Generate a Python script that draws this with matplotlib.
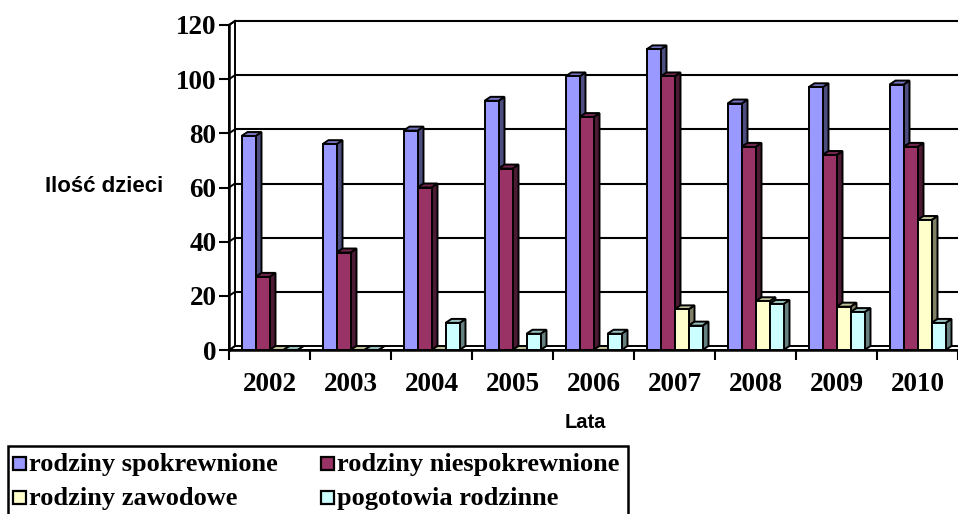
import numpy as np
import matplotlib.pyplot as plt
from matplotlib.patches import Polygon, Rectangle

years = ["2002", "2003", "2004", "2005", "2006", "2007", "2008", "2009", "2010"]
series_names = ["rodziny spokrewnione", "rodziny niespokrewnione",
                "rodziny zawodowe", "pogotowia rodzinne"]
spokrewnione = [79, 76, 81, 92, 101, 111, 91, 97, 98]
niespokrewnione = [27, 36, 60, 67, 86, 101, 75, 72, 75]
zawodowe = [0, 0, 0, 0, 0, 15, 18, 16, 48]
pogotowia = [0, 0, 10, 6, 6, 9, 17, 14, 10]
yticks = [0, 20, 40, 60, 80, 100, 120]

colors = ["#9999FF", "#993366", "#FFFFCC", "#CCFFFF"]
values = [spokrewnione, niespokrewnione, zawodowe, pogotowia]

W, H = 958, 514
fig = plt.figure(figsize=(W / 100, H / 100), dpi=100)
ax = fig.add_axes([229 / W, (H - 350) / H, (W - 229) / W, 325 / H])
ax.set_xlim(0, len(years))
ax.set_ylim(0, 120)
ax.set_facecolor("none")
for s in ax.spines.values():
    s.set_visible(False)

serif = "Liberation Serif"
sans = "Liberation Sans"

# 3D depth (data units): ~6 px right, ~4 px up
dx = 6 / 81
dy = 4 / (325 / 120)
lw = 1.4


def shade(c, f):
    r, g, b = [int(c[i:i + 2], 16) / 255 for i in (1, 3, 5)]
    return (r * f, g * f, b * f)


n = len(years)
# walls and floor
ax.add_patch(Polygon([(0, 0), (n, 0), (n + dx, dy), (dx, dy)], closed=True,
                     facecolor="white", edgecolor="black", lw=lw, zorder=1, clip_on=False))
ax.add_patch(Polygon([(0, 0), (dx, dy), (dx, 120 + dy), (0, 120)], closed=True,
                     facecolor="white", edgecolor="black", lw=lw, zorder=1, clip_on=False))
for v in yticks[1:]:
    ax.plot([dx, n + dx], [v + dy, v + dy], color="black", lw=1.5, zorder=1, clip_on=False)
    ax.plot([0, dx], [v, v + dy], color="black", lw=lw, zorder=1, clip_on=False)
ax.plot([0, 0], [0, 120], color="black", lw=1.8, zorder=2, clip_on=False)
ax.plot([0, n], [0, 0], color="black", lw=1.8, zorder=2, clip_on=False)

bw = 14 / 81
z = 3
for i in range(n):
    start = i + 0.5 - 2 * bw
    for k in range(4):
        x0 = start + k * bw
        h = values[k][i]
        c = colors[k]
        ax.add_patch(Polygon([(x0 + bw, 0), (x0 + bw + dx, dy), (x0 + bw + dx, h + dy), (x0 + bw, h)],
                             closed=True, facecolor=shade(c, 0.5), edgecolor="black", lw=lw,
                             zorder=z, clip_on=False))
        ax.add_patch(Polygon([(x0, h), (x0 + bw, h), (x0 + bw + dx, h + dy), (x0 + dx, h + dy)],
                             closed=True, facecolor=shade(c, 0.75), edgecolor="black", lw=lw,
                             zorder=z, clip_on=False))
        ax.bar(x0, h, bw, align="edge", color=c, edgecolor="black", lw=lw, zorder=z + 0.5)
        z += 1

ax.set_yticks(yticks)
ax.set_yticklabels([str(v) for v in yticks], fontfamily=serif, fontweight="bold", fontsize=19.5)
ax.tick_params(axis="y", direction="out", length=7, width=1.5, pad=2)
ax.set_xticks(np.arange(n + 1))
ax.set_xticklabels([])
ax.tick_params(axis="x", which="major", direction="out", length=7, width=1.5)
ax.set_xticks(np.arange(n) + 0.5, minor=True)
ax.set_xticklabels(years, minor=True, fontfamily=serif, fontweight="bold", fontsize=19.5)
ax.tick_params(axis="x", which="minor", length=0, pad=16)

fig.text(104 / W, 1 - 187 / H, "Ilość dzieci", fontfamily=sans, fontweight="bold",
         fontsize=16, ha="center", va="center")
fig.text(585 / W, 1 - 423 / H, "Lata", fontfamily=sans, fontweight="bold",
         fontsize=14.5, ha="center", va="center")

# legend box drawn in pixel space
lax = fig.add_axes([0, 0, 1, 1])
lax.set_xlim(0, W)
lax.set_ylim(H, 0)
lax.axis("off")
lax.add_patch(Rectangle((8, 446), 620, 80, facecolor="white", edgecolor="black", lw=1.8))
pos = [(13, 463), (321, 463), (13, 497), (321, 497)]
for (px, py), name, c in zip(pos, series_names, colors):
    lax.add_patch(Rectangle((px, py - 6.5), 13, 13, facecolor=c, edgecolor="black", lw=1.6))
    lax.text(px + 16, py + 1, name, fontfamily=serif, fontweight="bold", fontsize=19,
             ha="left", va="center")

fig.savefig("out.png", dpi=100)
